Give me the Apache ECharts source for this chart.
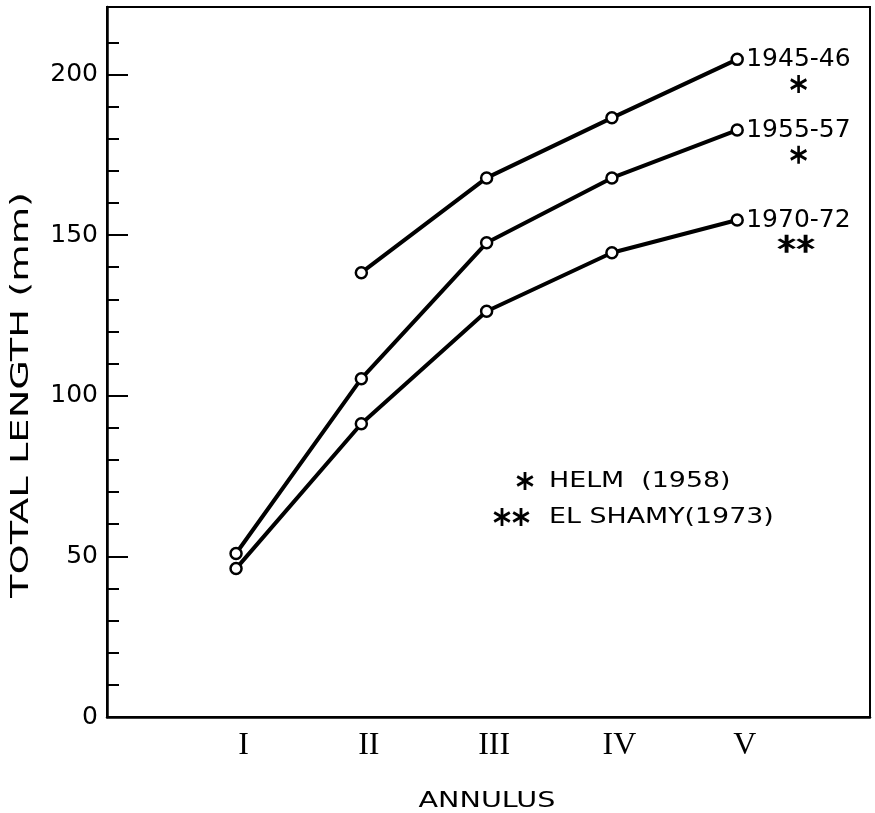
<!DOCTYPE html>
<html>
<head>
<meta charset="utf-8">
<script src="https://cdn.jsdelivr.net/npm/echarts@6/dist/echarts.min.js"></script>
<style>
  html, body { margin: 0; padding: 0; background: #fff; }
  #main { width: 875px; height: 813px; }
</style>
</head>
<body>
<div id="main"></div>
<script>
// data (total length in mm by annulus)
var annulus = ['I', 'II', 'III', 'IV', 'V'];
var periods = ['1945-46', '1955-57', '1970-72'];
var len4546 = [null, 138.3, 167.8, 186.5, 204.7];
var len5557 = [50.9, 105.3, 147.6, 167.8, 182.7];
var len7072 = [46.2, 91.3, 126.3, 144.5, 154.7];
// literature values drawn to the right of annulus V
var helmPos = 5.49;
var helmLengths = [197.0, 175.0];
var elShamyPos = 5.47;
var elShamyLengths = [147.3];
// y axis ticks
var yMajorTicks = [0, 50, 100, 150, 200];
var yMinorTicks = [0, 10, 20, 30, 40, 50, 60, 70, 80, 90, 100, 110, 120, 130, 140, 150, 160, 170, 180, 190, 200, 210];

var starPath = 'M0,-9L0,9M-7.8,-4.5L7.8,4.5M-7.8,4.5L7.8,-4.5';
var doubleStarPath = 'M-9.5,-9L-9.5,9M-17.3,-4.5L-1.7,4.5M-17.3,4.5L-1.7,-4.5M9.5,-9L9.5,9M1.7,-4.5L17.3,4.5M1.7,4.5L17.3,-4.5';

function toPoints(vals) {
  var pts = [];
  for (var i = 0; i < vals.length; i++) {
    if (vals[i] != null) pts.push([i + 1, vals[i]]);
  }
  return pts;
}

function lineSeries(name, vals) {
  return {
    name: name,
    type: 'line',
    data: toPoints(vals),
    symbol: 'circle',
    symbolSize: 11,
    lineStyle: { color: '#000', width: 4 },
    itemStyle: { color: '#fff', borderColor: '#000', borderWidth: 2.5 },
    endLabel: {
      show: true,
      formatter: name,
      distance: 9,
      color: '#000',
      fontFamily: 'DejaVu Sans',
      fontSize: 25
    },
    z: 3
  };
}

// legend asterisk made of three strokes
function legendStar(cx, cy) {
  var seg = [[0, -9, 0, 9], [-7.8, -4.5, 7.8, 4.5], [-7.8, 4.5, 7.8, -4.5]];
  return {
    type: 'group', x: cx, y: cy,
    children: seg.map(function (s) {
      return {
        type: 'line',
        shape: { x1: s[0], y1: s[1], x2: s[2], y2: s[3] },
        style: { stroke: '#000', lineWidth: 2.8 }
      };
    })
  };
}

var myChart = echarts.init(document.getElementById('main'));

var option = {
  animation: false,
  backgroundColor: '#fff',
  grid: {
    left: 107, right: 5, top: 7, bottom: 96,
    show: true, borderColor: '#000', borderWidth: 2
  },
  xAxis: [
    {
      type: 'value', min: -0.03, max: 6.06,
      axisLine: { show: true, onZero: false, lineStyle: { color: '#000', width: 2.5 } },
      axisTick: { show: false },
      axisLabel: { show: false },
      splitLine: { show: false }
    },
    {
      // label axis, shifted slightly right like the hand lettering
      type: 'value', min: -0.09, max: 6.0, position: 'bottom',
      axisLine: { show: false, onZero: false },
      axisTick: { show: false },
      splitLine: { show: false },
      axisLabel: {
        customValues: [1, 2, 3, 4, 5],
        formatter: function (v) { return annulus[v - 1] || ''; },
        margin: 13,
        color: '#000',
        fontFamily: 'Liberation Serif',
        fontSize: 32
      }
    }
  ],
  yAxis: [
    {
      type: 'value', min: 0, max: 221,
      axisLine: { show: true, onZero: false, lineStyle: { color: '#000', width: 2.5 } },
      axisTick: { show: true, inside: true, length: 12, customValues: yMinorTicks, lineStyle: { color: '#000', width: 2 } },
      axisLabel: { show: false },
      splitLine: { show: false }
    },
    {
      type: 'value', min: 0, max: 221, position: 'left',
      axisLine: { show: false, onZero: false },
      axisTick: { show: true, inside: true, length: 21, customValues: yMajorTicks, lineStyle: { color: '#000', width: 2 } },
      axisLabel: {
        customValues: yMajorTicks,
        margin: 9,
        color: '#000',
        fontFamily: 'DejaVu Sans',
        fontSize: 25
      },
      splitLine: { show: false }
    }
  ],
  series: [
    lineSeries(periods[0], len4546),
    lineSeries(periods[1], len5557),
    lineSeries(periods[2], len7072),
    {
      name: 'HELM (1958)',
      type: 'scatter',
      data: helmLengths.map(function (v) { return [helmPos, v]; }),
      symbol: 'path://' + starPath,
      symbolSize: [15.6, 18],
      itemStyle: { color: 'none', borderColor: '#000', borderWidth: 2.8, opacity: 1 }
    },
    {
      name: 'EL SHAMY (1973)',
      type: 'scatter',
      data: elShamyLengths.map(function (v) { return [elShamyPos, v]; }),
      symbol: 'path://' + doubleStarPath,
      symbolSize: [34.6, 18],
      itemStyle: { color: 'none', borderColor: '#000', borderWidth: 2.8, opacity: 1 }
    }
  ],
  graphic: [
    {
      type: 'text', x: 22, y: 395, rotation: Math.PI / 2, scaleX: 1.6,
      style: { text: 'TOTAL LENGTH (mm)', fill: '#000', font: '24px "DejaVu Sans"', align: 'center', verticalAlign: 'middle' }
    },
    {
      type: 'text', x: 487, y: 801, scaleX: 1.3,
      style: { text: 'ANNULUS', fill: '#000', font: '22px "DejaVu Sans"', align: 'center', verticalAlign: 'middle' }
    },
    legendStar(525, 481),
    {
      type: 'text', x: 549, y: 481, scaleX: 1.22,
      style: { text: 'HELM  (1958)', fill: '#000', font: '22px "DejaVu Sans"', align: 'left', verticalAlign: 'middle' }
    },
    legendStar(502, 517),
    legendStar(521, 517),
    {
      type: 'text', x: 549, y: 517, scaleX: 1.22,
      style: { text: 'EL SHAMY(1973)', fill: '#000', font: '22px "DejaVu Sans"', align: 'left', verticalAlign: 'middle' }
    }
  ]
};

myChart.setOption(option);
</script>
</body>
</html>
